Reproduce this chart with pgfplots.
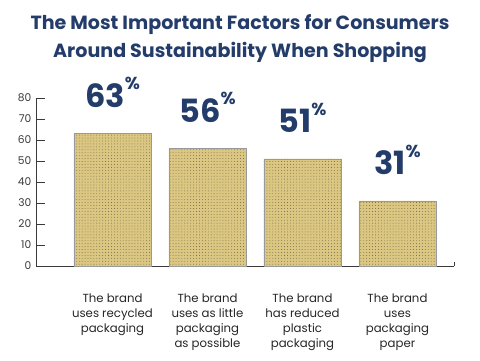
\documentclass[border=0pt]{standalone}
\usepackage{pgfplots}
\pgfplotsset{compat=1.18}
\usepackage{fontspec}
\setmainfont{Poppins}
\usetikzlibrary{patterns.meta}
\definecolor{navy}{HTML}{233C6A}
\definecolor{barfill}{HTML}{DBC782}
\definecolor{dotcol}{HTML}{6E6446}
\definecolor{axgray}{HTML}{3A3A3A}
\begin{document}
\begin{tikzpicture}
\useasboundingbox (0pt,0pt) rectangle (360pt,270.75pt);
\node[align=center, text=navy, font=\fontsize{14.3}{21}\selectfont\bfseries] at (180pt,241.5pt)
  {The Most Important Factors for Consumers\\Around Sustainability When Shopping};
\begin{axis}[
  at={(27pt,71.25pt)}, anchor=south west,
  scale only axis, width=313.5pt, height=126pt,
  xmin=-0.805, xmax=3.595, ymin=0, ymax=80,
  axis x line=bottom, axis y line=left,
  axis line style={-, draw=axgray, line width=0.7pt},
  ytick={0,10,...,80},
  tick align=inside,
  major tick length=6.75pt,
  ytick style={draw=axgray, line width=0.7pt},
  yticklabel style={font=\fontsize{8}{9}\selectfont, text=axgray},
  /pgf/number format/assume math mode=true,
  xtick=data,
  xtick style={draw=none},
  xticklabels={{The brand\\uses recycled\\packaging},{The brand\\uses as little\\packaging\\as possible},{The brand\\has reduced\\plastic\\packaging},{The brand\\uses\\packaging\\paper}},
  xticklabel style={font=\fontsize{8.8}{11.25}\selectfont, align=center, text=black!85, anchor=north, yshift=-10.5pt},
  ybar, bar width=57.75pt,
  nodes near coords={\pgfmathprintnumber{\pgfplotspointmeta}\raisebox{1.0ex}{\fontsize{13}{13}\selectfont\%}},
  nodes near coords style={font=\fontsize{24}{24}\selectfont\bfseries, text=navy, anchor=base, yshift=19.5pt},
  clip=false,
]
\addplot[fill=barfill, draw=black!40, line width=0.5pt,
  postaction={pattern={Dots[radius=0.33pt, distance=2.2pt]}, pattern color=dotcol}]
  coordinates {(0,63) (1,56) (2,51) (3,31)};
\draw[axgray, line width=0.7pt] (rel axis cs:1,0) -- ++(0pt,3pt);
\end{axis}
\end{tikzpicture}
\end{document}
